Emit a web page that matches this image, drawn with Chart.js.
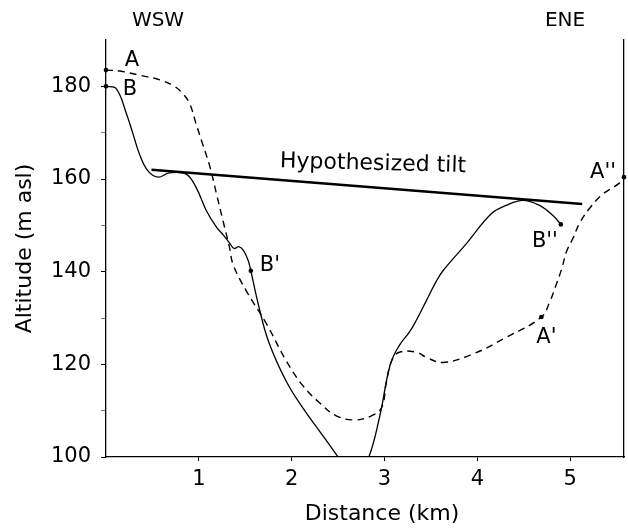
<!DOCTYPE html>
<html>
<head>
<meta charset="utf-8">
<script src="https://cdn.jsdelivr.net/npm/chart.js@4.4.1/dist/chart.umd.min.js"></script>
<style>
html, body { margin: 0; padding: 0; background: #fff; }
#caja { width: 628px; height: 529px; }
</style>
</head>
<body>
<div id="caja"><canvas id="perfil"></canvas></div>
<script>
// perfil A (linea discontinua)
const distanciaA = [0, 0.15, 0.36, 0.58, 0.72, 0.81, 0.9, 0.97, 1.04, 1.12, 1.19, 1.26, 1.33, 1.37, 1.51, 1.73, 1.94, 2.12, 2.3, 2.48, 2.68, 2.86, 2.97, 3.02, 3.08, 3.16, 3.35, 3.45, 3.63, 3.95, 4.31, 4.69, 4.78, 4.85, 4.91, 4.96, 5.03, 5.1, 5.21, 5.35, 5.53, 5.58];
const altitudA = [183.5, 183.3, 182.4, 181.4, 180.2, 178.8, 176.3, 171.9, 167.6, 162.6, 156.8, 151, 145.3, 141.5, 135.9, 128.7, 120.8, 115.4, 111.7, 108.9, 108, 108.9, 110.7, 116.1, 120.9, 122.6, 122.6, 121.5, 120.4, 122.2, 125.8, 130.2, 133.5, 137.2, 140.7, 144.3, 147.2, 150.4, 153.7, 156.7, 159.1, 160.4];

// perfil B (linea continua)
const distanciaB = [0, 0.11, 0.22, 0.29, 0.36, 0.45, 0.56, 0.68, 0.86, 0.97, 1.08, 1.19, 1.26, 1.33, 1.38, 1.43, 1.48, 1.53, 1.56, 1.64, 1.75, 1.94, 2.12, 2.3, 2.52, 2.67, 2.82, 2.95, 3.06, 3.16, 3.27, 3.34, 3.45, 3.56, 3.63, 3.88, 4.15, 4.31, 4.49, 4.67, 4.82, 4.9];
const altitudB = [180, 179.5, 174.1, 169.8, 165.4, 161.8, 160.4, 161.3, 161.1, 158.2, 153.2, 149.6, 148, 146.2, 145, 145.4, 144.6, 142.5, 140.2, 133, 125, 116.4, 110.6, 105.6, 99.4, 95, 99.4, 108.9, 119.8, 124.1, 127, 129.4, 133.7, 138, 140.2, 146, 152.5, 154.3, 155.4, 154.3, 152, 150.2];

// inclinacion hipotetica
const distanciaTilt = [0.49, 5.13];
const altitudTilt = [162, 154.6];

// puntos marcados
const etiquetas = ['A', 'B', "B'", "B''", "A'", "A''"];
const distanciaPuntos = [0, 0, 1.56, 4.9, 4.69, 5.58];
const altitudPuntos = [183.5, 180, 140.2, 150.2, 130.2, 160.4];

const ticksX = [1, 2, 3, 4, 5];
const ticksY = [100, 110, 120, 130, 140, 150, 160, 170, 180];

// desplazamiento de cada etiqueta respecto a su punto (px)
const desplaz = [[26, -10], [24, 3], [19, -5], [-16, 17], [5, 20], [-21, -5]];

Chart.defaults.font.family = '"DejaVu Sans", sans-serif';
Chart.defaults.color = '#000';

function puntos(xs, ys){
    let salida = [];
    for (var i = 0; i < xs.length; i++){
        salida.push({x: xs[i], y: ys[i]});
    }
    return salida;
}

const textos = {
    id: 'textos',
    afterDatasetsDraw(chart){
        const ctx = chart.ctx;
        const x = chart.scales.x;
        const y = chart.scales.y;
        ctx.save();
        ctx.fillStyle = '#000';
        ctx.font = '21px "DejaVu Sans"';
        ctx.textAlign = 'center';
        ctx.textBaseline = 'middle';
        for (var i = 0; i < etiquetas.length; i++){
            let px = x.getPixelForValue(distanciaPuntos[i]) + desplaz[i][0];
            let py = y.getPixelForValue(altitudPuntos[i]) + desplaz[i][1];
            ctx.fillText(etiquetas[i], px, py);
        }
        ctx.font = '20px "DejaVu Sans"';
        ctx.fillText('WSW', 158, 21);
        ctx.fillText('ENE', 565, 21);
        // titulo del eje x, un poco a la derecha como en el original
        ctx.font = '22px "DejaVu Sans"';
        ctx.fillText('Distance (km)', 382, 514);
        ctx.translate(373, 164);
        ctx.rotate(1.5 * Math.PI / 180);
        ctx.fillText('Hypothesized tilt', 0, 0);
        ctx.restore();
    }
};

const ctx = document.getElementById('perfil');
const grafico = new Chart(ctx, {
    type: 'scatter',
    data: {
        datasets: [{
            label: 'A',
            data: puntos(distanciaA, altitudA),
            showLine: true,
            borderColor: '#000',
            borderWidth: 1.4,
            borderDash: [7, 5],
            pointRadius: 0,
            tension: 0.4
        }, {
            label: 'B',
            data: puntos(distanciaB, altitudB),
            showLine: true,
            borderColor: '#000',
            borderWidth: 1.3,
            pointRadius: 0,
            tension: 0.4
        }, {
            label: 'tilt',
            data: puntos(distanciaTilt, altitudTilt),
            showLine: true,
            borderColor: '#000',
            borderWidth: 2.6,
            pointRadius: 0
        }, {
            label: 'puntos',
            data: puntos(distanciaPuntos, altitudPuntos),
            showLine: false,
            pointRadius: 2.3,
            backgroundColor: '#000',
            borderWidth: 0,
            clip: false
        }]
    },
    options: {
        responsive: true,
        maintainAspectRatio: false,
        animation: false,
        layout: { padding: { top: 40, left: 0, right: 0, bottom: 0 } },
        plugins: {
            legend: { display: false },
            tooltip: { enabled: false }
        },
        scales: {
            x: {
                type: 'linear',
                min: 0,
                max: 5.58,
                afterBuildTicks: s => { s.ticks = ticksX.map(v => ({value: v})); },
                afterFit: s => { s.height = 72; },
                grid: { drawOnChartArea: false, drawTicks: true, tickLength: 4, color: '#000' },
                border: { display: true, color: '#000', width: 1.3 },
                ticks: { color: '#000', font: { size: 21 }, padding: 6, maxRotation: 0 },
                title: { display: false, text: 'Distance (km)' }
            },
            y: {
                type: 'linear',
                min: 100,
                max: 190,
                afterBuildTicks: s => { s.ticks = ticksY.map(v => ({value: v})); },
                afterFit: s => { s.width = 106; },
                grid: {
                    drawOnChartArea: false,
                    drawTicks: true,
                    tickLength: 5,
                    tickColor: c => (c.tick && c.tick.value % 20 === 0) ? '#000' : '#777'
                },
                border: { display: true, color: '#000', width: 1.3 },
                ticks: {
                    color: '#000',
                    font: { size: 21 },
                    padding: 10,
                    callback: v => (v % 20 === 0 ? v : '')
                },
                title: { display: true, text: 'Altitude (m asl)', color: '#000', font: { size: 22 }, padding: { top: 12, bottom: 0 } }
            },
            y2: {
                type: 'linear',
                position: 'right',
                min: 100,
                max: 190,
                afterFit: s => { s.width = 4; },
                grid: { drawOnChartArea: false, drawTicks: false },
                border: { display: true, color: '#000', width: 1.3 },
                ticks: { display: false }
            }
        }
    },
    plugins: [textos]
});
</script>
</body>
</html>
